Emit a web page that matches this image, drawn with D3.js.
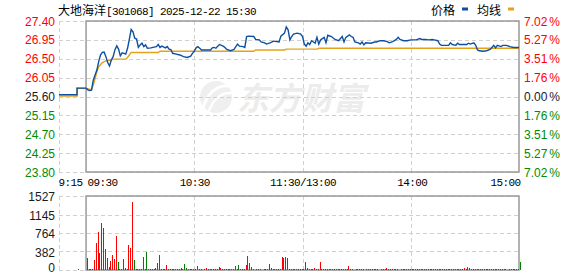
<!DOCTYPE html>
<html>
<head>
<meta charset="utf-8">
<script src="https://cdn.jsdelivr.net/npm/d3@7"></script>
<style>
  body { margin: 0; background: #fff; }
  svg { display: block; }
  .grid line { stroke: #d0d0d0; stroke-dasharray: 4,3; shape-rendering: crispEdges; }
  .grid .domain { display: none; }
  .ax .domain { display: none; }
  .ax text { font-family: "Liberation Sans", Arial, sans-serif; font-size: 12px; }
  .tm .domain { display: none; }
  .tm text { font-family: "Liberation Mono", monospace; font-size: 11px; letter-spacing: -0.6px; fill: #000; }
</style>
</head>
<body>
<div id="chart"></div>
<script>
// ticks / labels
const priceTicks = [27.40, 26.95, 26.50, 26.05, 25.60, 25.15, 24.70, 24.25, 23.80];
const priceLabels = ["27.40", "26.95", "26.50", "26.05", "25.60", "25.15", "24.70", "24.25", "23.80"];
const pctLabels = ["7.02%", "5.27%", "3.51%", "1.76%", "0.00%", "1.76%", "3.51%", "5.27%", "7.02%"];
const volTicks = [1527, 1145, 764, 382, 0];
const volLabels = ["1527", "1145", "764", "382", "0"];
const timeTicks = [-15, 0, 60, 120, 180, 240];   // minutes from 09:30 (trading minutes)
const timeLabels = ["9:15", "09:30", "10:30", "11:30/13:00", "14:00", "15:00"];

// price line [minute, price]
const price = [
  [-15,25.64],[-5,25.64],[-5,25.80],[0,25.80],[1,25.76],[2,25.74],[3,25.75],[4,25.99],[5,26.11],[6,26.23],
  [7,26.43],[8,26.59],[9,26.65],[10,26.66],[11,26.55],[12,26.41],[13,26.33],[14,26.47],[15,26.55],[16,26.71],
  [17,26.81],[18,26.73],[19,26.57],[20,26.64],[21,26.63],[22,26.61],[23,26.75],[24,26.97],[25,27.20],[26,27.14],
  [27,26.99],[28,26.97],[29,26.77],[30,26.83],[31,26.87],[32,26.79],[33,26.83],[34,26.75],[36,26.76],[37,26.77],
  [39,26.79],[40,26.84],[41,26.77],[42,26.80],[44,26.76],[45,26.79],[46,26.73],[47,26.72],[48,26.63],[50,26.61],
  [52,26.59],[54,26.55],[56,26.53],[58,26.56],[59,26.63],[60,26.68],[61,26.76],[62,26.79],[63,26.75],[64,26.71],
  [69,26.71],[70,26.76],[71,26.77],[72,26.75],[73,26.80],[74,26.84],[76,26.80],[77,26.77],[78,26.72],[80,26.69],
  [82,26.72],[83,26.79],[84,26.85],[85,26.80],[87,26.79],[88,26.77],[89,27.03],[90,27.04],[93,27.03],[94,26.96],
  [96,26.95],[97,26.90],[99,26.88],[100,26.85],[102,26.88],[104,26.92],[107,26.90],[108,27.04],[110,27.11],[111,27.26],
  [112,27.19],[113,26.95],[114,27.03],[115,27.09],[117,27.11],[119,27.09],[120,27.03],[121,26.85],[122,26.80],[123,26.88],
  [124,26.84],[125,26.93],[127,26.87],[128,27.01],[129,26.85],[130,26.95],[131,26.98],[132,27.01],[133,26.88],[134,27.06],
  [136,27.03],[138,26.96],[140,26.93],[142,27.03],[143,26.90],[144,27.01],[146,27.07],[147,27.03],[148,27.01],[149,26.90],
  [151,26.88],[152,26.85],[153,26.90],[154,26.83],[155,26.88],[158,26.87],[160,26.90],[161,26.90],[163,26.93],[165,26.93],
  [167,26.91],[168,26.88],[170,26.91],[172,26.96],[173,27.01],[174,26.96],[176,26.93],[178,26.93],[180,26.95],[183,26.95],
  [185,26.98],[186,26.96],[188,26.96],[190,26.95],[192,26.96],[193,26.95],[195,26.93],[196,26.85],[197,26.82],[201,26.82],
  [202,26.88],[203,26.84],[205,26.82],[206,26.87],[207,26.84],[211,26.84],[212,26.87],[213,26.85],[215,26.88],[216,26.82],
  [217,26.71],[218,26.69],[220,26.68],[222,26.69],[224,26.72],[225,26.77],[226,26.82],[227,26.76],[228,26.82],[230,26.79],
  [231,26.82],[233,26.82],[235,26.79],[237,26.77],[240,26.77]
];

// average line [minute, price]
const avgPrice = [
  [-15,25.61],[-5,25.61],[-5,25.80],[0,25.79],[3,25.76],[4,25.87],[5,26.03],[6,26.19],[7,26.31],[9,26.41],
  [11,26.45],[14,26.47],[15,26.49],[22,26.49],[23,26.53],[24,26.59],[25,26.65],[40,26.65],[41,26.68],[93,26.68],
  [94,26.71],[110,26.71],[111,26.73],[128,26.73],[129,26.75],[240,26.75]
];

// volume per trading minute 0..240, and r = up / g = down
const volume = [
  240,25,20,20,206,564,791,344,977,860,
  427,241,55,186,310,227,702,165,25,20,
  227,41,20,516,447,1397,206,20,20,20,
  20,275,20,372,20,20,20,20,41,138,
  310,20,20,20,103,20,20,20,20,20,
  20,20,41,20,124,41,20,20,20,20,
  20,83,20,20,0,20,41,20,20,20,
  20,20,20,62,41,20,20,20,20,20,
  20,20,83,20,103,20,20,20,103,289,
  144,62,20,0,20,20,20,0,20,20,
  20,124,41,20,20,20,20,20,268,255,
  268,248,20,20,20,20,20,20,20,20,
  20,165,41,20,20,20,41,20,20,165,
  20,20,20,20,20,20,20,20,20,20,
  20,20,20,20,20,83,20,20,0,20,
  20,20,20,20,0,20,20,20,20,20,
  20,20,0,20,20,20,41,20,20,20,
  20,20,20,0,20,20,20,20,20,20,
  20,20,20,20,20,20,20,20,20,20,
  20,20,20,20,20,20,20,20,20,20,
  20,20,20,20,20,20,20,20,20,41,
  20,62,41,20,20,20,20,20,20,20,
  20,20,20,20,20,20,20,20,20,20,
  20,20,20,0,20,20,20,20,20,20,
  172
];
const volumeDir =
  "ggrrrrrrrr" + "gggrrrrggr" + "rgrrrrgggr" + "grggggrrrr" + "rggrrggggg" +
  "gggrggrrrg" + "rrgggrrrrg" + "rgrrrggggr" + "rgrggggrrr" + "ggggggrgrg" +
  "grrggrrrrr" + "rrrgrrrgrr" + "rggrgrrggr" + "rggggggrgg" + "ggrrrrgggg" +
  "grrrrrrrgr" + "rrrgrrrggr" + "rrgggggggg" + "ggggrggggg" + "ggrggggrrg" +
  "ggrrggrrrr" + "rrrrgggggg" + "gggggrggrg" + "ggrggrgggg" + "g";
const auctionVolume = [[-5, 20, "r"]];   // 09:25 call auction

const W = 578, H = 276;
const x = d3.scaleLinear().domain([-15, 240]).range([59, 519]);
const yP = d3.scaleLinear().domain([23.80, 27.40]).range([172, 21]);
const yV = d3.scaleLinear().domain([0, 1527]).range([270, 196]);

const svg = d3.select("#chart").append("svg").attr("width", W).attr("height", H);

// watermark
const wm = svg.append("g").attr("fill", "#efefef");
wm.append("circle").attr("cx", 216).attr("cy", 97).attr("r", 16);
wm.append("path").attr("d", "M203,108 C208,92 218,84 231,86").attr("stroke", "#fff").attr("stroke-width", 3).attr("fill", "none");
wm.append("path").attr("d", "M209,111 C213,99 222,92 232,93").attr("stroke", "#fff").attr("stroke-width", 2.5).attr("fill", "none");
wm.append("text").attr("x", 237).attr("y", 110)
  .attr("font-family", "Noto Sans CJK SC").attr("font-size", 32).attr("font-weight", "bold")
  .attr("font-style", "italic").attr("fill", "#ececec").text("东方财富");

// grid - price panel
svg.append("g").attr("class", "grid").attr("transform", "translate(59,0)")
  .call(d3.axisLeft(yP).tickValues(priceTicks).tickSize(-460).tickFormat(""));
svg.append("g").attr("class", "grid").attr("transform", "translate(0,172)")
  .call(d3.axisBottom(x).tickValues([-15, 60, 120, 180]).tickSize(-151).tickFormat(""));
// grid - volume panel
svg.append("g").attr("class", "grid").attr("transform", "translate(59,0)")
  .call(d3.axisLeft(yV).tickValues(volTicks).tickSize(-460).tickFormat(""));
svg.append("g").attr("class", "grid").attr("transform", "translate(0,270)")
  .call(d3.axisBottom(x).tickValues([-15, 60, 120, 180]).tickSize(-74).tickFormat(""));

// frames
svg.append("rect").attr("x", x(0)).attr("y", yP(27.40)).attr("width", x(240) - x(0)).attr("height", yP(23.80) - yP(27.40))
  .attr("fill", "none").attr("stroke", "#999").attr("stroke-width", 1.5);
svg.append("rect").attr("x", x(0)).attr("y", yV(1527)).attr("width", x(240) - x(0)).attr("height", yV(0) - yV(1527))
  .attr("fill", "none").attr("stroke", "#999").attr("stroke-width", 1.5);

// lines
const line = d3.line().x(d => x(d[0])).y(d => yP(d[1]));
svg.append("path").datum(avgPrice).attr("d", line)
  .attr("fill", "none").attr("stroke", "#e3a21a").attr("stroke-width", 1.4);
svg.append("path").datum(price).attr("d", line)
  .attr("fill", "none").attr("stroke", "#0d4fa3").attr("stroke-width", 1.4);

// volume bars
const bars = volume.map((v, i) => [i, v, volumeDir[i]]).concat(auctionVolume);
svg.append("g").selectAll("rect").data(bars).enter().append("rect")
  .attr("x", d => Math.round(x(d[0]) + 0.8))
  .attr("y", d => yV(d[1]))
  .attr("width", 1)
  .attr("height", d => yV(0) - yV(d[1]))
  .attr("fill", d => d[2] === "r" ? "#ff0000" : "#008000")
  .attr("shape-rendering", "crispEdges");

// axes
const tickColor = i => i < 4 ? "#ff0000" : (i === 4 ? "#1a1a2a" : "#008c00");
svg.append("g").attr("class", "ax").attr("transform", "translate(59,0)")
  .call(d3.axisLeft(yP).tickValues(priceTicks).tickSize(0).tickPadding(4).tickFormat((d, i) => priceLabels[i]))
  .selectAll("text").attr("fill", (d, i) => tickColor(i)).attr("dy", "0.34em");

svg.append("g").attr("class", "ax").attr("transform", "translate(519,0)")
  .call(d3.axisRight(yP).tickValues(priceTicks).tickSize(0).tickPadding(5).tickFormat((d, i) => pctLabels[i]))
  .selectAll("text").attr("fill", (d, i) => tickColor(i)).attr("dy", "0.34em")
  .each(function(d, i) {
    const t = d3.select(this);
    t.text(pctLabels[i].replace("%", ""));
    t.append("tspan").attr("dx", 2).text("%");
  });

svg.append("g").attr("class", "ax").attr("transform", "translate(59,0)")
  .call(d3.axisLeft(yV).tickValues(volTicks).tickSize(0).tickPadding(4).tickFormat((d, i) => volLabels[i]))
  .selectAll("text").attr("fill", "#1a1a1a").attr("dy", (d, i) => i === 4 ? "0.1em" : "0.4em");

const anchors = ["start", "start", "middle", "middle", "middle", "end"];
const shifts = [-1, 1, 0, 0, 1, 1];
svg.append("g").attr("class", "tm").attr("transform", "translate(0,172)")
  .call(d3.axisBottom(x).tickValues(timeTicks).tickSize(0).tickPadding(6).tickFormat((d, i) => timeLabels[i]))
  .selectAll("text").attr("text-anchor", (d, i) => anchors[i]).attr("dx", (d, i) => shifts[i]);

// title + legend
const title = svg.append("text").attr("x", 58).attr("y", 15).attr("fill", "#000");
title.append("tspan").attr("font-family", "Noto Sans CJK SC").attr("font-size", 12).text("大地海洋");
title.append("tspan").attr("font-family", "Liberation Mono").attr("font-size", 11).attr("letter-spacing", -0.6)
  .text("[301068] 2025-12-22 15:30");

svg.append("text").attr("x", 431).attr("y", 15).attr("font-family", "Noto Sans CJK SC").attr("font-size", 12).text("价格");
svg.append("rect").attr("x", 462).attr("y", 7.5).attr("width", 6).attr("height", 3).attr("fill", "#0d4fa3");
svg.append("text").attr("x", 477).attr("y", 15).attr("font-family", "Noto Sans CJK SC").attr("font-size", 12).text("均线");
svg.append("rect").attr("x", 508).attr("y", 7.5).attr("width", 6).attr("height", 3).attr("fill", "#e3a21a");
</script>
</body>
</html>
